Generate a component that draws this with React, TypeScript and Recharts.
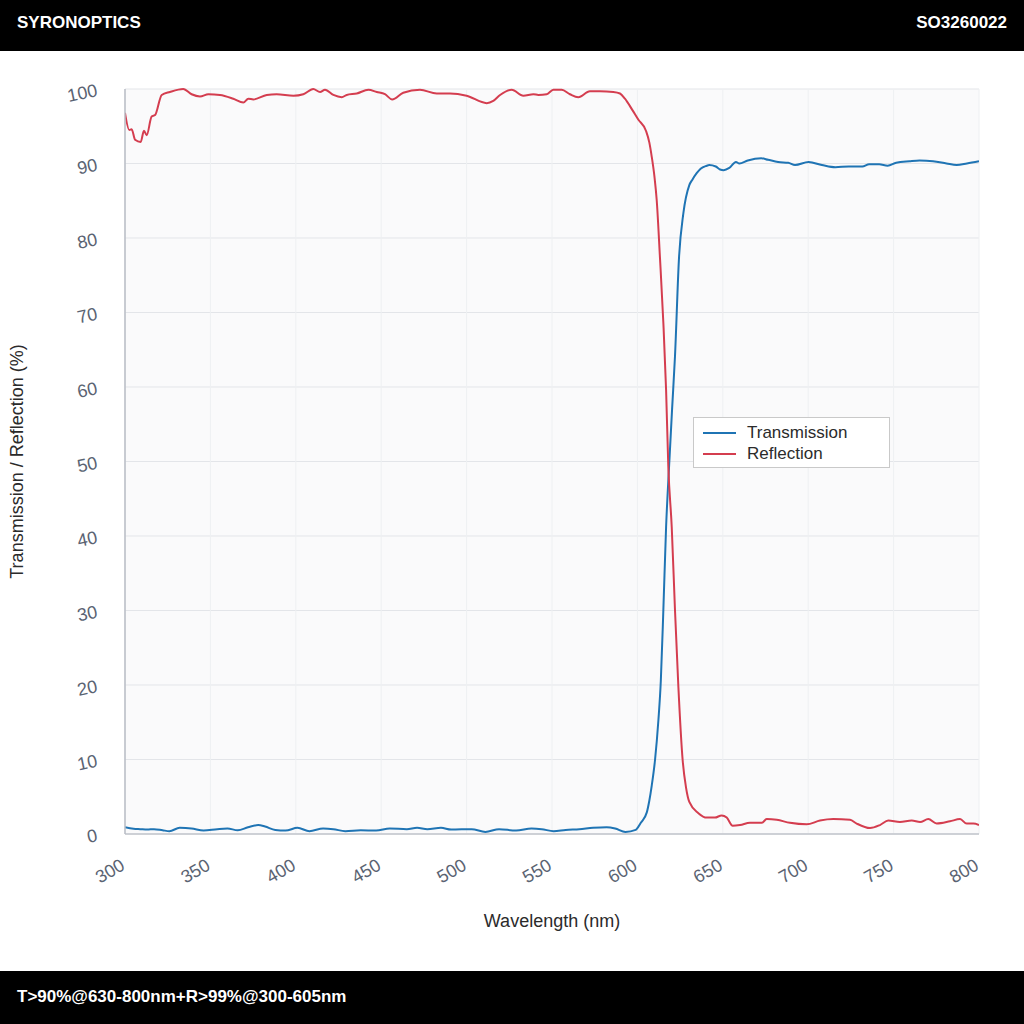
import React from 'react';
import { LineChart, Line, XAxis, YAxis, CartesianGrid, Legend } from 'recharts';

const transWavelength = [
  300, 305, 309, 313, 317, 322, 326, 332, 339, 346, 354, 360, 366, 372, 378, 382, 388, 394, 401, 408,
  416, 422, 429, 438, 447, 455, 465, 471, 477, 485, 491, 503, 511, 519, 529, 538, 544, 551, 558, 566,
  574, 582, 587, 593, 599, 602, 605.5, 607, 608.4, 610.3, 612.3, 613.7, 615.2, 616.8, 618.7, 620.3,
  622, 624.4, 626.9, 630.4, 632.1, 634.7, 637, 640.6, 642, 645.9, 648.4, 650.5, 653.8, 657.7, 659.7,
  664.6, 672.5, 676.5, 682.4, 688.3, 692.3, 700.2, 708, 715.9, 723.8, 731.7, 735.7, 741.6, 746.5,
  751.5, 759.3, 765.2, 773.1, 781, 786.9, 792.9, 800,
];
const transValues = [
  0.9, 0.7, 0.65, 0.6, 0.65, 0.5, 0.38, 0.83, 0.74, 0.46, 0.65, 0.74, 0.5, 0.9, 1.2, 1.0, 0.55, 0.46, 0.83, 0.38,
  0.74, 0.65, 0.38, 0.5, 0.46, 0.74, 0.65, 0.83, 0.65, 0.83, 0.6, 0.65, 0.28, 0.65, 0.46, 0.74, 0.65, 0.38, 0.55, 0.65,
  0.83, 0.91, 0.74, 0.28, 0.55, 1.5, 2.9, 4.5, 6.5, 9.9, 15.3, 20.5, 30.1, 41.2, 50, 57,
  64.1, 77.5, 83.3, 87.1, 87.8, 88.7, 89.3, 89.7, 89.8, 89.6, 89.2, 89.1, 89.4, 90.2, 90.0,
  90.4, 90.7, 90.5, 90.2, 90.1, 89.8, 90.2, 89.8, 89.5, 89.6, 89.6, 89.9, 89.9, 89.7,
  90.1, 90.3, 90.4, 90.3, 90.0, 89.8, 90.0, 90.3,
];

const reflWavelength = [
  300, 302.5, 303.9, 305.9, 309.2, 311.1, 312.7, 315.6, 317.6, 321.5, 326.3, 334.1, 339, 343.9, 348.8,
  355.6, 363.4, 369.3, 372.2, 375.1, 383, 388.8, 398.6, 404.4, 410.2, 414.2, 417.1, 422, 426.9, 429.8,
  435.7, 442.5, 447.4, 452.2, 456.4, 462.9, 472.7, 482.5, 490.3, 500, 511.8, 515.6, 519.6, 526.4, 533.2,
  539.1, 542, 546.9, 550.8, 555.7, 560.5, 565.4, 572.2, 578.1, 585.9, 589.8, 592.7, 597, 600.5, 605,
  607, 608.4, 610, 611.3, 613.2, 615.2, 616.8, 618.1, 620.1, 622, 624, 626.5, 628.5, 630.4, 635.7,
  640.6, 645.4, 649.3, 652.3, 655.8, 660.1, 665.9, 672.8, 675.7, 681.6, 689.3, 699.1, 706.9, 714.7,
  724.5, 728.4, 736.2, 742, 746.9, 753.7, 760.6, 765.5, 770.3, 775.2, 783, 788.9, 792.8, 796.7, 800,
];
const reflValues = [
  96.8, 94.5, 94.6, 93.2, 92.9, 94.4, 93.8, 96.3, 96.5, 99.2, 99.6, 100, 99.3, 99.0, 99.3,
  99.2, 98.7, 98.2, 98.7, 98.6, 99.2, 99.3, 99.1, 99.3, 100, 99.6, 99.9, 99.2, 98.9, 99.2,
  99.4, 99.9, 99.6, 99.3, 98.6, 99.5, 99.9, 99.4, 99.4, 99.1, 98.1, 98.4, 99.2, 99.9, 99.1,
  99.3, 99.2, 99.3, 99.9, 99.9, 99.3, 98.9, 99.7, 99.7, 99.6, 99.4, 98.7, 97.2, 95.9, 94.4,
  92.8, 90.9, 88.2, 85.1, 77.4, 68.6, 59.6, 49.3, 41.2, 30.1, 19.7, 9.9, 6.2, 4.3, 2.8,
  2.2, 2.2, 2.5, 2.2, 1.1, 1.2, 1.5, 1.5, 2.0, 1.9, 1.5, 1.3, 1.8, 2.0,
  1.9, 1.4, 0.8, 1.2, 1.8, 1.6, 1.8, 1.6, 2.0, 1.4, 1.7, 2.0, 1.4, 1.4, 1.2,
];

const xTicks = [300, 350, 400, 450, 500, 550, 600, 650, 700, 750, 800];
const yTicks = [0, 10, 20, 30, 40, 50, 60, 70, 80, 90, 100];
const seriesNames = ['Transmission', 'Reflection'];
const seriesColors = ['#1f74b4', '#d43d4f'];

const headerLeft = 'SYRONOPTICS';
const headerRight = 'SO3260022';
const footerText = 'T>90%@630-800nm+R>99%@300-605nm';
const xTitle = 'Wavelength (nm)';
const yTitle = 'Transmission / Reflection (%)';

const transData = transWavelength.map((wl, i) => ({ wl, value: transValues[i] }));
const reflData = reflWavelength.map((wl, i) => ({ wl, value: reflValues[i] }));

const FONT = '"Liberation Sans", Arial, Helvetica, sans-serif';
const TICK_COLOR = '#5a6372';

function XTick(props: any) {
  const { x, y, payload } = props;
  return (
    <g transform={`translate(${x - 15},${y + 37}) rotate(-30)`}>
      <text textAnchor="middle" dominantBaseline="central" fill={TICK_COLOR} fontSize={18} fontFamily={FONT}>
        {payload.value}
      </text>
    </g>
  );
}

function YTick(props: any) {
  const { x, y, payload } = props;
  return (
    <g transform={`translate(${x - 28},${y + 1}) rotate(-12)`}>
      <text textAnchor="end" dominantBaseline="central" fill={TICK_COLOR} fontSize={18} fontFamily={FONT}>
        {payload.value}
      </text>
    </g>
  );
}

function XTitle(props: any) {
  const vb = props.viewBox || {};
  return (
    <text
      x={vb.x + vb.width / 2}
      y={vb.y + 87}
      textAnchor="middle"
      dominantBaseline="central"
      fill="#2b2b2b"
      fontSize={18}
      fontFamily={FONT}
    >
      {xTitle}
    </text>
  );
}

function YTitle(props: any) {
  const vb = props.viewBox || {};
  const cx = vb.x - 48;
  const cy = vb.y + vb.height / 2;
  return (
    <text
      x={cx}
      y={cy}
      transform={`rotate(-90, ${cx}, ${cy})`}
      textAnchor="middle"
      dominantBaseline="central"
      fill="#2b2b2b"
      fontSize={18}
      fontFamily={FONT}
    >
      {yTitle}
    </text>
  );
}

function LegendBox() {
  return (
    <div
      style={{
        width: 197,
        height: 51,
        boxSizing: 'border-box',
        border: '1px solid #c9c9c9',
        background: '#ffffff',
        paddingTop: 4,
        paddingLeft: 9,
        fontFamily: FONT,
        fontSize: 17,
        color: '#2b2b2b',
      }}
    >
      {seriesNames.map((n, i) => (
        <div key={n} style={{ display: 'flex', alignItems: 'center', height: 21 }}>
          <span style={{ display: 'inline-block', width: 33, height: 2, background: seriesColors[i], marginRight: 11 }} />
          <span style={{ lineHeight: '21px' }}>{n}</span>
        </div>
      ))}
    </div>
  );
}

export default function App() {
  return (
    <div style={{ position: 'absolute', left: 0, top: 0, width: 1024, height: 1024, background: '#ffffff', overflow: 'hidden' }}>
      <div
        style={{
          position: 'absolute', left: 0, top: 0, width: 1024, height: 51, background: '#000',
          color: '#fff', fontFamily: FONT, fontWeight: 700, fontSize: 17,
        }}
      >
        <span style={{ position: 'absolute', left: 17, top: 13, lineHeight: '20px' }}>{headerLeft}</span>
        <span style={{ position: 'absolute', right: 17, top: 13, lineHeight: '20px' }}>{headerRight}</span>
      </div>
      <div style={{ position: 'absolute', left: 0, top: 51, width: 1024, height: 920 }}>
        <LineChart width={1024} height={920} margin={{ top: 38, right: 45, left: 65, bottom: 77 }}>
          <CartesianGrid horizontal={true} vertical={false} stroke="#e3e5e9" fill="#fafafb" />
          <CartesianGrid horizontal={false} vertical={true} stroke="#eef0f2" />
          <XAxis
            dataKey="wl"
            type="number"
            domain={[300, 800]}
            ticks={xTicks}
            allowDataOverflow
            height={60}
            tickLine={false}
            tickSize={0}
            tickMargin={0}
            axisLine={{ stroke: '#c2c6cc', strokeWidth: 1.5 }}
            tick={<XTick />}
            interval={0}
            label={{ content: XTitle }}
          />
          <YAxis
            type="number"
            domain={[0, 100]}
            ticks={yTicks}
            width={60}
            tickLine={false}
            tickSize={0}
            tickMargin={0}
            axisLine={{ stroke: '#b8bdc5', strokeWidth: 1.5 }}
            tick={<YTick />}
            interval={0}
            label={{ content: YTitle }}
          />
          <Legend
            layout="horizontal"
            verticalAlign="middle"
            align="center"
            content={() => <LegendBox />}
            wrapperStyle={{ position: 'absolute', left: 693, top: 366, width: 197, height: 51 }}
          />
          <Line
            data={transData}
            dataKey="value"
            name={seriesNames[0]}
            type="monotone"
            stroke={seriesColors[0]}
            strokeWidth={2}
            dot={false}
            activeDot={false}
            isAnimationActive={false}
          />
          <Line
            data={reflData}
            dataKey="value"
            name={seriesNames[1]}
            type="monotone"
            stroke={seriesColors[1]}
            strokeWidth={2}
            dot={false}
            activeDot={false}
            isAnimationActive={false}
          />
        </LineChart>
      </div>
      <div
        style={{
          position: 'absolute', left: 0, top: 971, width: 1024, height: 53, background: '#000',
          color: '#fff', fontFamily: FONT, fontWeight: 700, fontSize: 17,
        }}
      >
        <span style={{ position: 'absolute', left: 17, top: 16, lineHeight: '20px' }}>{footerText}</span>
      </div>
    </div>
  );
}
